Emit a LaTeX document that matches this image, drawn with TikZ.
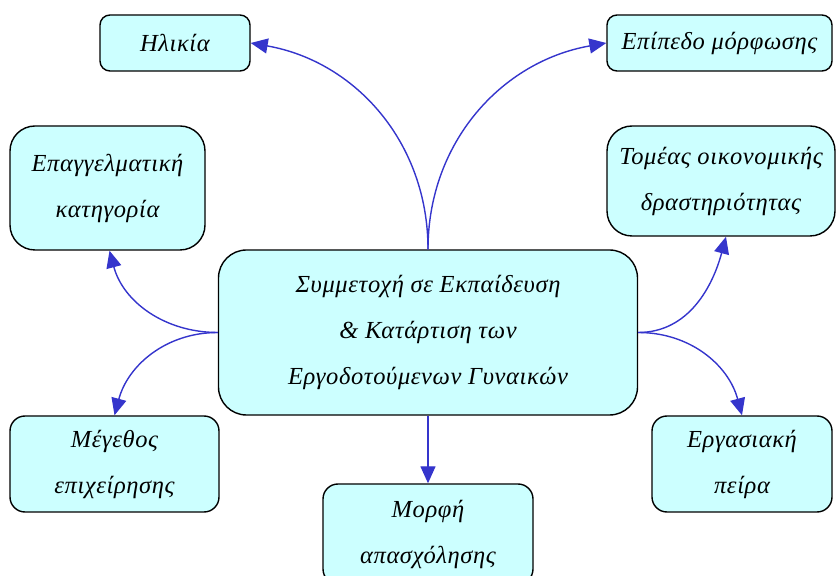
\documentclass[tikz,border=0pt]{standalone}
\usepackage{fontspec}
\setmainfont{Liberation Serif}
\newfontfamily\boxfont{Liberation Serif}[LetterSpace=2.5]
\usetikzlibrary{arrows.meta}
\definecolor{boxfill}{HTML}{CCFFFF}
\definecolor{arrowblue}{HTML}{3535CC}
\begin{document}
\begin{tikzpicture}[x=1pt,y=1pt,
  box/.style={draw=black, line width=1.4pt, fill=boxfill, align=center, inner sep=0pt,
    font=\boxfont\fontsize{24.5}{46}\selectfont\itshape},
  conn/.style={draw=arrowblue, line width=1.4pt, -{Triangle[length=17pt,width=15pt]}}]
\useasboundingbox (0,0) rectangle (836,576);
\node[box, minimum width=150pt, minimum height=56pt, rounded corners=10pt] (ilikia) at (175,533) {Ηλικία};
\node[box, minimum width=225pt, minimum height=56pt, rounded corners=10pt] (epipedo) at (719.5,533) {Επίπεδο μόρφωσης};
\node[box, minimum width=195pt, minimum height=124pt, rounded corners=25pt] (epag) at (107.5,388) {Επαγγελματική\\κατηγορία};
\node[box, minimum width=228pt, minimum height=110pt, rounded corners=25pt] (tomeas) at (721,395) {Τομέας οικονομικής\\δραστηριότητας};
\node[box, minimum width=419pt, minimum height=165pt, rounded corners=28pt] (central) at (428,243.5) {Συμμετοχή σε Εκπαίδευση\\\& Κατάρτιση των\\Εργοδοτούμενων Γυναικών};
\node[box, minimum width=209pt, minimum height=96pt, rounded corners=15pt] (megethos) at (114.5,112) {Μέγεθος\\επιχείρησης};
\node[box, minimum width=180pt, minimum height=96pt, rounded corners=15pt] (ergas) at (742,112) {Εργασιακή\\πείρα};
\node[box, minimum width=210pt, minimum height=100pt, rounded corners=15pt] (morfi) at (428,42) {Μορφή\\απασχόλησης};
\draw[conn] (central.north) to[out=90, in=-10] (ilikia.east);
\draw[conn] (central.north) to[out=90, in=190] (epipedo.west);
\draw[conn] (central.west) to[out=180, in=-75] ([xshift=2pt]epag.south);
\draw[conn] (central.west) to[out=180, in=75] (megethos.north);
\draw[conn] (central.east) to[out=0, in=-105] ([xshift=5pt]tomeas.south);
\draw[conn] (central.east) to[out=0, in=105] (ergas.north);
\draw[conn] (central.south) -- (morfi.north);
\end{tikzpicture}
\end{document}
